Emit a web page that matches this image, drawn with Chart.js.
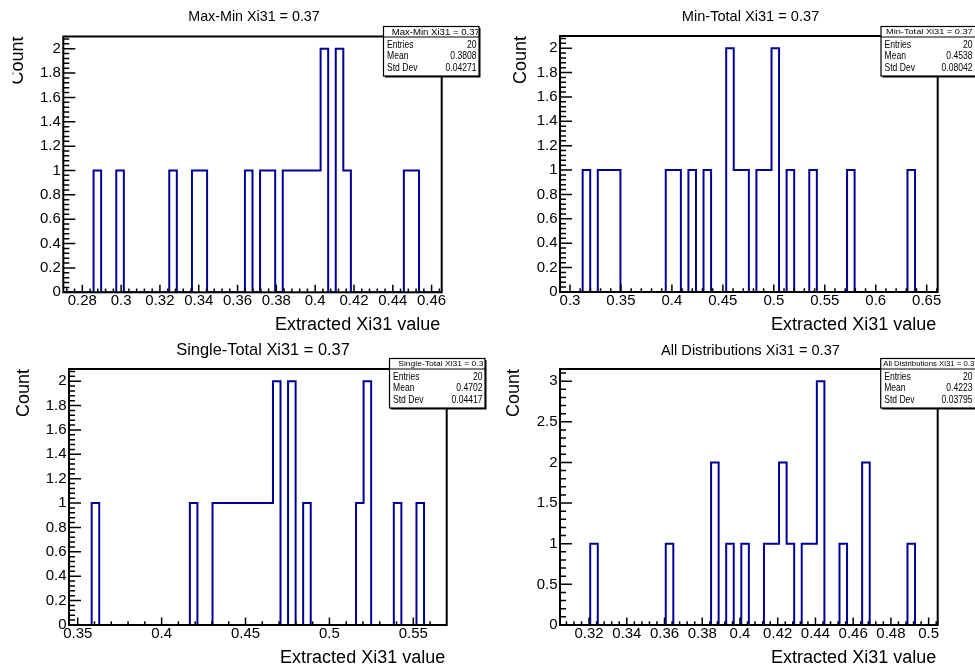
<!DOCTYPE html>
<html>
<head>
<meta charset="utf-8">
<title>Xi31 distributions</title>
<script src="https://cdn.jsdelivr.net/npm/chart.js@4.4.1/dist/chart.umd.min.js"></script>
<style>
  html, body { margin: 0; padding: 0; background: #fff; }
  #canvas-wrap { position: relative; width: 975px; height: 665px; overflow: hidden; background: #fff; }
  #canvas-wrap canvas { position: absolute; }
</style>
</head>
<body>
<div id="canvas-wrap">
  <canvas id="pad1" width="487" height="332" style="left:0px;top:0px"></canvas>
  <canvas id="pad2" width="488" height="332" style="left:487px;top:0px"></canvas>
  <canvas id="pad3" width="487" height="333" style="left:0px;top:332px"></canvas>
  <canvas id="pad4" width="488" height="333" style="left:487px;top:332px"></canvas>
</div>
<script>
// bin contents, 50 bins per histogram
const maxMinCounts = [
  0, 0, 0, 0, 1, 0, 0, 1, 0, 0,
  0, 0, 0, 0, 1, 0, 0, 1, 1, 0,
  0, 0, 0, 0, 1, 0, 1, 1, 0, 1,
  1, 1, 1, 1, 2, 0, 2, 1, 0, 0,
  0, 0, 0, 0, 0, 1, 1, 0, 0, 0
];
const minTotalCounts = [
  0, 0, 0, 1, 0, 1, 1, 1, 0, 0,
  0, 0, 0, 0, 1, 1, 0, 1, 0, 1,
  0, 0, 2, 1, 1, 0, 1, 1, 2, 0,
  1, 0, 0, 1, 0, 0, 0, 0, 1, 0,
  0, 0, 0, 0, 0, 0, 1, 0, 0, 0
];
const singleTotalCounts = [
  0, 0, 0, 1, 0, 0, 0, 0, 0, 0,
  0, 0, 0, 0, 0, 0, 1, 0, 0, 1,
  1, 1, 1, 1, 1, 1, 1, 2, 0, 2,
  0, 1, 0, 0, 0, 0, 0, 0, 1, 2,
  0, 0, 0, 1, 0, 0, 1, 0, 0, 0
];
const allDistCounts = [
  0, 0, 0, 0, 1, 0, 0, 0, 0, 0,
  0, 0, 0, 0, 1, 0, 0, 0, 0, 0,
  2, 0, 1, 0, 1, 0, 0, 1, 1, 2,
  1, 0, 1, 1, 3, 0, 0, 1, 0, 0,
  2, 0, 0, 0, 0, 0, 1, 0, 0, 0
];

const histTitles = ['Max-Min Xi31 = 0.37', 'Min-Total Xi31 = 0.37', 'Single-Total Xi31 = 0.37', 'All Distributions Xi31 = 0.37'];
const histCounts = [maxMinCounts, minTotalCounts, singleTotalCounts, allDistCounts];

// axis ranges and tick steps
const xLow = [0.2702, 0.2902, 0.3448, 0.3046];
const xHigh = [0.4652, 0.6608, 0.5699, 0.5048];
const xTickSteps = [0.02, 0.05, 0.05, 0.02];
const yMax = [2.1, 2.1, 2.1, 3.15];
const yTickSteps = [0.2, 0.2, 0.2, 0.5];

// stats box contents
const statEntries = ['20', '20', '20', '20'];
const statMeans = ['0.3808', '0.4538', '0.4702', '0.4223'];
const statStdDevs = ['0.04271', '0.08042', '0.04417', '0.03795'];

const xAxisTitle = 'Extracted Xi31 value';
const yAxisTitle = 'Count';

const FONT = '"Liberation Sans", Arial, Helvetica, sans-serif';
const LINE_COLOR = '#000099';

// pad geometry (pixels inside each canvas)
const pads = [
  { id: 'pad1', frame: [63.3, 36.5, 441.7, 292.3], titleX: 254, titleY: 21, titleSize: 14.3,
    yTitleX: 23.3, yTitleClip: 12.7, xTitleY: 329.7, stats: [383.5, 479, 8.2, 9.6] },
  { id: 'pad2', frame: [73, 36, 450.7, 292], titleX: 263.5, titleY: 21, titleSize: 14.6,
    yTitleX: 38.7, yTitleClip: 0, xTitleY: 329.7, stats: [394, 489, 5, 9.2] },
  { id: 'pad3', frame: [69, 37, 446.7, 293], titleX: 263, titleY: 22.5, titleSize: 16.4,
    yTitleX: 29.3, yTitleClip: 0, xTitleY: 331, stats: [389.5, 485, 8.8, 8.5] },
  { id: 'pad4', frame: [73, 37, 450.7, 293], titleX: 263.5, titleY: 22.5, titleSize: 14.6,
    yTitleX: 32, yTitleClip: 0, xTitleY: 331, stats: [393.7, 489, 2.6, 7.8] }
];

/**
 * Step outline points from bin edges
 */
function histPoints(counts, lo, hi) {
  const w = (hi - lo) / counts.length;
  const pts = [{ x: lo, y: 0 }];
  counts.forEach((c, i) => pts.push({ x: lo + i * w, y: c }));
  pts.push({ x: hi, y: 0 });
  return pts;
}

/**
 * Tick positions: every minor step, flag the major ones
 */
function tickValues(min, max, major) {
  const minor = major / 5;
  const out = [];
  for (let k = Math.ceil(min / minor - 1e-6); k * minor <= max + 1e-9; k++) {
    const v = k * minor;
    const r = v / major;
    out.push({ value: v, major: Math.abs(r - Math.round(r)) < 1e-6 });
  }
  return out;
}

function fmt(v) {
  return String(parseFloat(v.toFixed(4)));
}

// text squeezed or stretched horizontally (ROOT stats box look)
function scaledText(ctx, text, x, y, size, sx, align) {
  ctx.save();
  ctx.translate(x, y);
  ctx.scale(sx, 1);
  ctx.font = `${size}px ${FONT}`;
  ctx.textAlign = align;
  ctx.fillText(text, 0, 0);
  ctx.restore();
}

// ROOT-like frame, ticks, titles and stats box
const rootPadPlugin = {
  id: 'rootPad',
  afterDatasetsDraw(chart) {
    const i = chart.options.plugins.rootPad.index;
    const { ctx, chartArea: a } = chart;
    const xs = chart.scales.x, ys = chart.scales.y;
    ctx.save();
    ctx.strokeStyle = '#000';
    ctx.lineWidth = 1.5;
    ctx.beginPath();
    tickValues(xs.min, xs.max, xTickSteps[i]).forEach(t => {
      const px = xs.getPixelForValue(t.value);
      ctx.moveTo(px, a.bottom);
      ctx.lineTo(px, a.bottom - (t.major ? 7.5 : 3.8));
    });
    tickValues(ys.min, ys.max, yTickSteps[i]).forEach(t => {
      const py = ys.getPixelForValue(t.value);
      ctx.moveTo(a.left, py);
      ctx.lineTo(a.left + (t.major ? 12 : 6), py);
    });
    ctx.stroke();
    ctx.lineWidth = 2;
    ctx.strokeRect(a.left, a.top, a.right - a.left, a.bottom - a.top);
    ctx.restore();
  },
  afterDraw(chart) {
    const i = chart.options.plugins.rootPad.index;
    const p = pads[i];
    const { ctx, chartArea: a, width, height } = chart;
    ctx.save();
    ctx.fillStyle = '#000';
    ctx.textBaseline = 'alphabetic';

    // pad title
    ctx.font = `${p.titleSize}px ${FONT}`;
    ctx.textAlign = 'center';
    ctx.fillText(histTitles[i], p.titleX, p.titleY);

    // axis titles
    ctx.font = `18px ${FONT}`;
    ctx.textAlign = 'right';
    ctx.fillText(xAxisTitle, a.right - 1.5, p.xTitleY);

    ctx.save();
    if (p.yTitleClip) {
      ctx.beginPath();
      ctx.rect(p.yTitleClip, 0, width, height);
      ctx.clip();
    }
    ctx.translate(p.yTitleX, a.top);
    ctx.rotate(-Math.PI / 2);
    ctx.textAlign = 'right';
    ctx.fillText(yAxisTitle, 0, 0);
    ctx.restore();

    // stats box
    const [bl, br, tOff, tSize] = p.stats;
    const bt = 26.5, bs = 37, bb = 76;
    ctx.fillStyle = '#000';
    ctx.fillRect(bl + 1.5, bt + 1.5, br - bl, bb - bt);
    ctx.fillStyle = '#fff';
    ctx.fillRect(bl, bt, br - bl, bb - bt);
    ctx.strokeStyle = '#000';
    ctx.lineWidth = 1.2;
    ctx.strokeRect(bl, bt, br - bl, bb - bt);
    ctx.beginPath();
    ctx.moveTo(bl, bs);
    ctx.lineTo(br, bs);
    ctx.stroke();

    ctx.save();
    ctx.beginPath();
    ctx.rect(bl + 1, bt + 1, br - bl - 2, bs - bt - 1);
    ctx.clip();
    ctx.fillStyle = '#000';
    ctx.textBaseline = 'middle';
    scaledText(ctx, histTitles[i], bl + tOff, (bt + bs) / 2 + 0.5, tSize / 1.15, 1.15, 'left');
    ctx.restore();

    ctx.fillStyle = '#000';
    ctx.textBaseline = 'middle';
    const rows = [['Entries', statEntries[i]], ['Mean', statMeans[i]], ['Std Dev', statStdDevs[i]]];
    rows.forEach((r, k) => {
      const yy = bt + 18.3 + k * 11.5;
      scaledText(ctx, r[0], bl + 3.5, yy, 10.2, 0.84, 'left');
      scaledText(ctx, r[1], Math.min(br, width) - 2.5, yy, 10.2, 0.84, 'right');
    });
    ctx.restore();
  }
};

function buildChart(i) {
  const p = pads[i];
  const canvas = document.getElementById(p.id);
  const W = canvas.width, H = canvas.height;
  const [fl, ft, fr, fb] = p.frame;
  const tickFont = { family: FONT, size: 15 };

  return new Chart(canvas.getContext('2d'), {
    type: 'line',
    data: {
      datasets: [{
        data: histPoints(histCounts[i], xLow[i], xHigh[i]),
        stepped: true,
        borderColor: LINE_COLOR,
        borderWidth: 2,
        borderJoinStyle: 'miter',
        pointRadius: 0,
        fill: false,
        tension: 0
      }]
    },
    options: {
      responsive: false,
      animation: false,
      devicePixelRatio: 1,
      layout: { padding: { left: 0, top: ft, right: W - fr, bottom: 0 } },
      scales: {
        x: {
          type: 'linear',
          min: xLow[i],
          max: xHigh[i],
          grid: { display: false, drawTicks: false },
          border: { display: false },
          ticks: {
            stepSize: xTickSteps[i],
            includeBounds: false,
            autoSkip: false,
            maxRotation: 0,
            padding: 0,
            color: '#000',
            font: tickFont,
            callback: v => fmt(v)
          },
          afterFit: s => { s.height = H - fb; }
        },
        y: {
          min: 0,
          max: yMax[i],
          grid: { display: false, drawTicks: false },
          border: { display: false },
          ticks: {
            stepSize: yTickSteps[i],
            includeBounds: false,
            autoSkip: false,
            padding: 2.5,
            color: '#000',
            font: tickFont,
            callback: v => fmt(v)
          },
          afterFit: s => { s.width = fl; }
        }
      },
      plugins: {
        legend: { display: false },
        tooltip: { enabled: false },
        rootPad: { index: i }
      }
    },
    plugins: [rootPadPlugin]
  });
}

window.addEventListener('DOMContentLoaded', () => {
  pads.forEach((p, i) => buildChart(i));
});
</script>
</body>
</html>
